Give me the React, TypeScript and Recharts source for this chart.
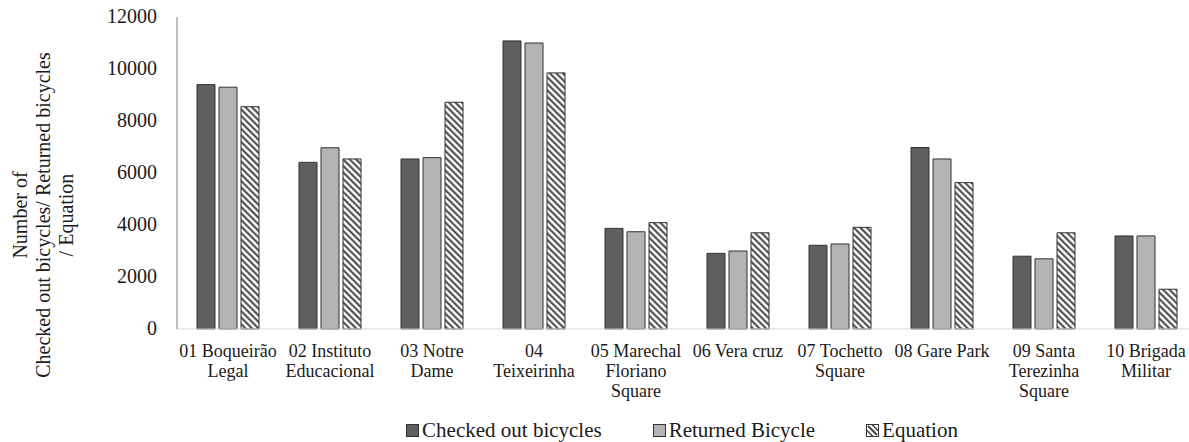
import React from 'react';
import { BarChart, Bar, XAxis, YAxis, Legend, Label } from 'recharts';

const categories = [
  '01 Boqueirão\nLegal',
  '02 Instituto\nEducacional',
  '03 Notre\nDame',
  '04\nTeixeirinha',
  '05 Marechal\nFloriano\nSquare',
  '06 Vera cruz',
  '07 Tochetto\nSquare',
  '08 Gare Park',
  '09 Santa\nTerezinha\nSquare',
  '10 Brigada\nMilitar',
];
const checkedOut = [9400, 6410, 6540, 11080, 3870, 2910, 3220, 6980, 2800, 3580];
const returned = [9300, 6970, 6590, 11000, 3740, 3000, 3270, 6540, 2700, 3580];
const equation = [8550, 6540, 8720, 9850, 4090, 3700, 3910, 5630, 3700, 1530];
const yTicks = [0, 2000, 4000, 6000, 8000, 10000, 12000];
const yTitle = ['Number of', 'Checked out bicycles/ Returned bicycles', '/ Equation'];

const FONT = 'Liberation Serif, Times New Roman, serif';
const TEXT = '#1a1a1a';
const DARK = '#5f5f5f';
const LIGHT = '#b3b3b3';
const EDGE = '#333333';

const data = categories.map((name, i) => ({
  name,
  checked: checkedOut[i],
  returned: returned[i],
  equation: equation[i],
}));

const CategoryTick = (props: any) => {
  const { x, y, payload } = props;
  const lines = String(payload.value).split('\n');
  return (
    <g transform={`translate(${x},${y})`}>
      {lines.map((line, i) => (
        <text key={i} x={0} y={28 + i * 20} textAnchor="middle" style={{ fontFamily: FONT }} fontSize={18} fill={TEXT}>
          {line}
        </text>
      ))}
    </g>
  );
};

const YTick = (props: any) => {
  const { x, y, payload } = props;
  return (
    <text x={x} y={y} dy={6} textAnchor="end" style={{ fontFamily: FONT }} fontSize={20} fill={TEXT}>
      {payload.value}
    </text>
  );
};

const YTitle = () => (
  <g>
    {yTitle.map((line, i) => {
      const x = 27 + i * 23;
      const y = 215;
      return (
        <text
          key={i}
          x={x}
          y={y}
          transform={`rotate(-90, ${x}, ${y})`}
          textAnchor="middle"
          style={{ fontFamily: FONT }}
          fontSize={20}
          fill={TEXT}
        >
          {line}
        </text>
      );
    })}
  </g>
);

const legendItems = [
  { label: 'Checked out bicycles', kind: 'dark' },
  { label: 'Returned Bicycle', kind: 'light' },
  { label: 'Equation', kind: 'hatch' },
];

const Marker = ({ kind }: { kind: string }) => (
  <svg width={13} height={13} style={{ marginRight: 3 }}>
    {kind === 'hatch' ? (
      <g>
        <rect x={0.5} y={0.5} width={12} height={12} fill="#fff" stroke={EDGE} />
        <line x1={2} y1={2} x2={11} y2={11} stroke="#404040" strokeWidth={2} />
        <line x1={0.5} y1={6} x2={7} y2={12.5} stroke="#404040" strokeWidth={1.5} />
        <line x1={6} y1={0.5} x2={12.5} y2={7} stroke="#404040" strokeWidth={1.5} />
      </g>
    ) : (
      <rect x={0.5} y={0.5} width={12} height={12} fill={kind === 'dark' ? DARK : LIGHT} stroke={EDGE} />
    )}
  </svg>
);

const renderLegend = () => (
  <div
    style={{
      display: 'flex',
      justifyContent: 'center',
      alignItems: 'center',
      gap: 51,
      height: 24,
      fontFamily: FONT,
      fontSize: 21,
      color: TEXT,
    }}
  >
    {legendItems.map((item) => (
      <span key={item.label} style={{ display: 'flex', alignItems: 'center', whiteSpace: 'nowrap' }}>
        <Marker kind={item.kind} />
        {item.label}
      </span>
    ))}
  </div>
);

export default function App() {
  return (
    <div style={{ position: 'absolute', left: 0, top: 0, width: 1189, height: 442, overflow: 'hidden', background: '#fff', fontFamily: FONT }}>
      <BarChart
        width={1200}
        height={442}
        data={data}
        margin={{ top: 17, right: 3, bottom: 0, left: 0 }}
        barGap={4}
        barSize={18}
      >
        <defs>
          <pattern id="hatch" patternUnits="userSpaceOnUse" width={4.6} height={4.6} patternTransform="rotate(-45)">
            <rect width={4.6} height={4.6} fill="#fff" />
            <line x1={1.2} y1={0} x2={1.2} y2={4.6} stroke="#404040" strokeWidth={2} />
          </pattern>
        </defs>
        <XAxis
          dataKey="name"
          interval={0}
          height={89}
          tickLine={false}
          tickSize={0}
          tickMargin={0}
          axisLine={{ stroke: '#d9d9d9' }}
          tick={<CategoryTick />}
        />
        <XAxis xAxisId="top" dataKey="name" orientation="top" height={0} tick={false} tickLine={false} axisLine={{ stroke: '#7f7f7f' }} />
        <YAxis
          width={177}
          domain={[0, 12000]}
          ticks={yTicks}
          interval={0}
          tickLine={false}
          tickSize={0}
          tickMargin={20}
          axisLine={{ stroke: '#7f7f7f' }}
          tick={<YTick />}
        >
          <Label content={<YTitle />} />
        </YAxis>
        <Legend verticalAlign="bottom" content={renderLegend} wrapperStyle={{ left: 172, width: 1020 }} />
        <Bar dataKey="checked" name="Checked out bicycles" fill={DARK} stroke={EDGE} strokeWidth={1} isAnimationActive={false} />
        <Bar dataKey="returned" name="Returned Bicycle" fill={LIGHT} stroke={EDGE} strokeWidth={1} isAnimationActive={false} />
        <Bar dataKey="equation" name="Equation" fill="url(#hatch)" stroke={EDGE} strokeWidth={1} isAnimationActive={false} />
      </BarChart>
    </div>
  );
}
